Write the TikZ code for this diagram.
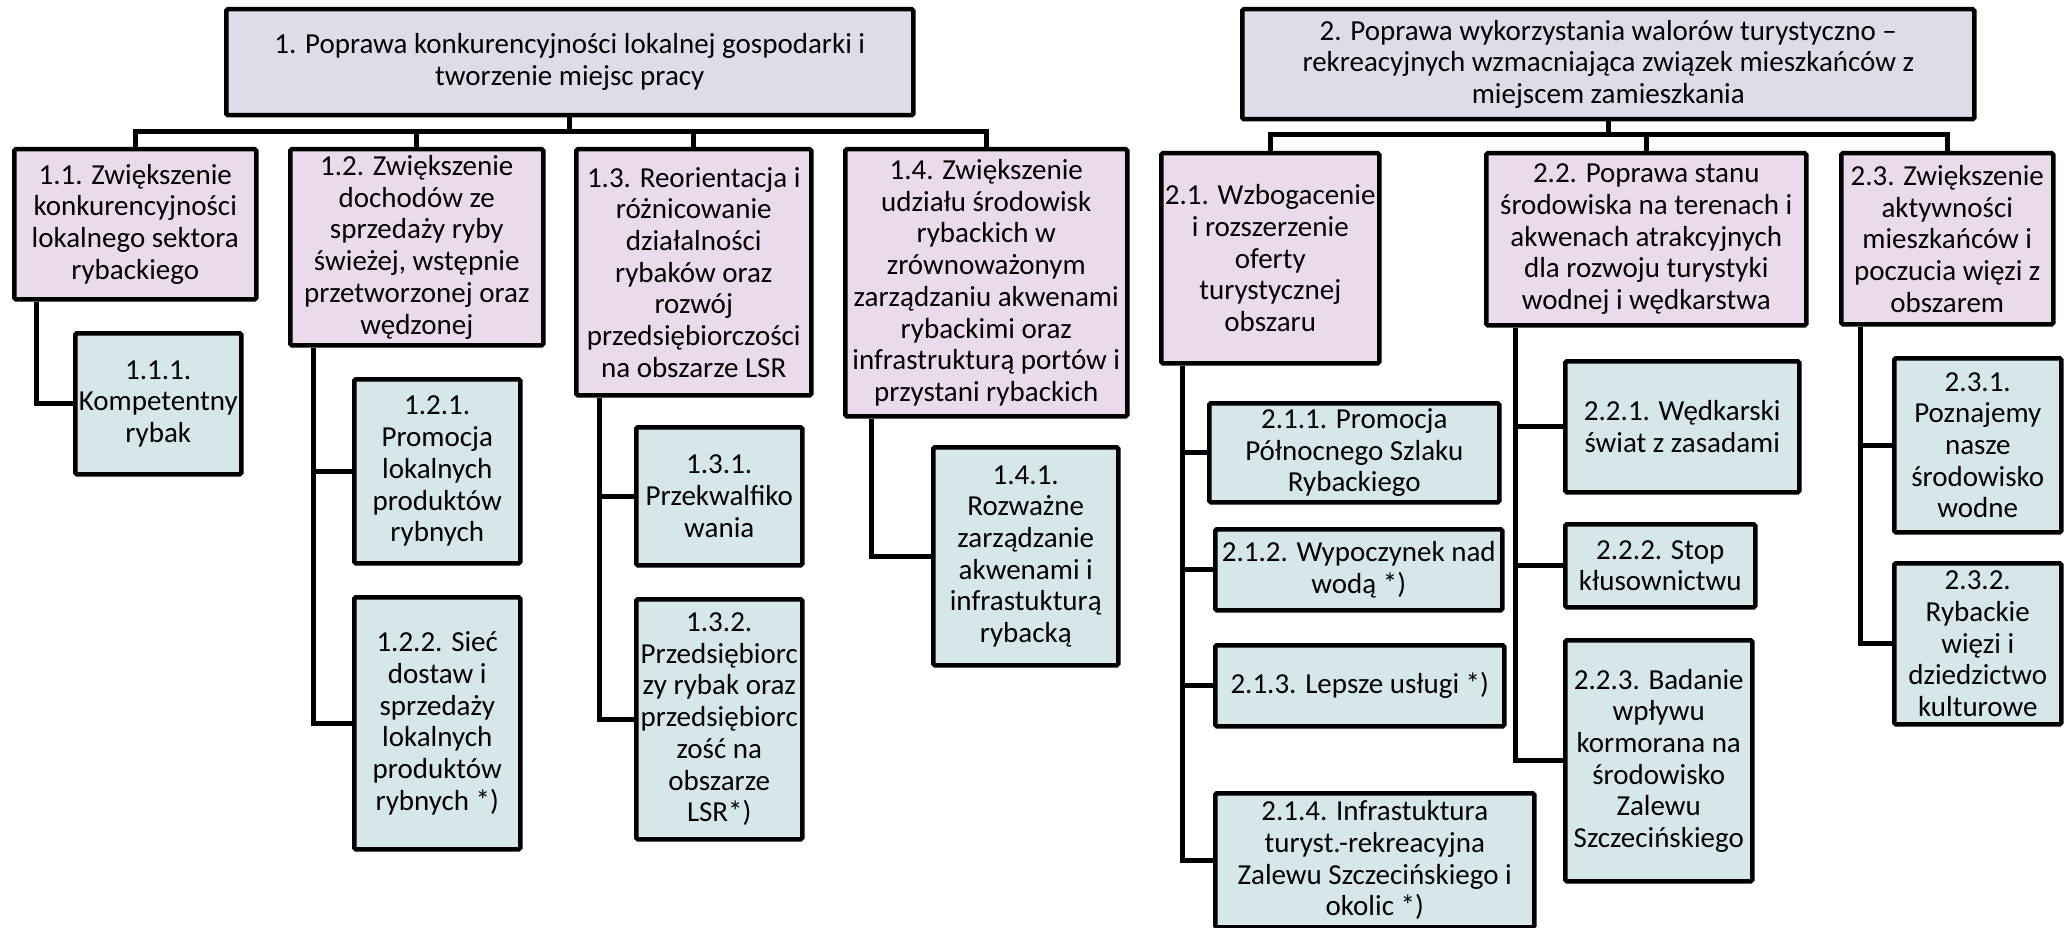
\documentclass[tikz,border=0pt]{standalone}
\usepackage{fontspec}
\setmainfont{Carlito}
\definecolor{topc}{RGB}{221,221,234}
\definecolor{midc}{RGB}{234,218,236}
\definecolor{leafc}{RGB}{214,231,233}
\begin{document}
\begin{tikzpicture}[x=1pt,y=-1pt,
  box/.style={draw=black, line width=4.5pt, rounded corners=1.5pt, inner sep=0pt,
    align=center, anchor=north west, font=\fontsize{29pt}{31.7pt}\selectfont},
  topbox/.style={box, fill=topc},
  midbox/.style={box, fill=midc},
  leafbox/.style={box, fill=leafc},
  sz/.style 2 args={minimum width=#1pt, minimum height=#2pt},
  conn/.style={draw=black, line width=5pt}]
\useasboundingbox (0,0) rectangle (2069,928);

% ---------- group 1 ----------
\node[topbox, sz={687}{106}] (b1) at (224,7) {1. Poprawa konkurencyjności lokalnej gospodarki i\\tworzenie miejsc pracy};

\node[midbox, sz={242}{150}] (n11) at (12,147) {1.1. Zwiększenie\\konkurencyjności\\lokalnego sektora\\rybackiego};
\node[midbox, sz={253}{196}] (n12) at (288,147) {1.2. Zwiększenie\\dochodów ze\\sprzedaży ryby\\świeżej, wstępnie\\przetworzonej oraz\\wędzonej};
\node[midbox, sz={235}{246}] (n13) at (574,147) {1.3. Reorientacja i\\różnicowanie\\działalności\\rybaków oraz\\rozwój\\przedsiębiorczości\\na obszarze LSR};
\node[midbox, sz={282}{267}] (n14) at (843,147) {1.4. Zwiększenie\\udziału środowisk\\rybackich w\\zrównoważonym\\zarządzaniu akwenami\\rybackimi oraz\\infrastrukturą portów i\\przystani rybackich};

\node[leafbox, sz={166}{141}] (n111) at (73,331) {1.1.1.\\Kompetentny\\rybak};
\node[leafbox, sz={166}{184}] (n121) at (352,377) {1.2.1.\\Promocja\\lokalnych\\produktów\\rybnych};
\node[leafbox, sz={166}{252}] (n122) at (352,595) {1.2.2. Sieć\\dostaw i\\sprzedaży\\lokalnych\\produktów\\rybnych *)};
\node[leafbox, sz={166}{138}] (n131) at (634,425) {1.3.1.\\Przekwalfiko\\wania};
\node[leafbox, sz={166}{240}] (n132) at (634,597) {1.3.2.\\Przedsiębiorc\\zy rybak oraz\\przedsiębiorc\\zość na\\obszarze\\LSR*)};
\node[leafbox, sz={185}{218}] (n141) at (931,445) {1.4.1.\\Rozważne\\zarządzanie\\akwenami i\\infrastukturą\\rybacką};

% ---------- group 2 ----------
\node[topbox, sz={732}{110}] (b2) at (1240,7) {2. Poprawa wykorzystania walorów turystyczno –\\rekreacyjnych wzmacniająca związek mieszkańców z\\miejscem zamieszkania};

\node[midbox, sz={218}{210}] (n21) at (1159,151) {2.1. Wzbogacenie\\i rozszerzenie\\oferty\\turystycznej\\obszaru};
\node[midbox, sz={320}{172}] (n22) at (1484,151) {2.2. Poprawa stanu\\środowiska na terenach i\\akwenach atrakcyjnych\\dla rozwoju turystyki\\wodnej i wędkarstwa};
\node[midbox, sz={212}{171}] (n23) at (1839,151) {2.3. Zwiększenie\\aktywności\\mieszkańców i\\poczucia więzi z\\obszarem};

\node[leafbox, sz={290}{99}] (n211) at (1207,401) {2.1.1. Promocja\\Północnego Szlaku\\Rybackiego};
\node[leafbox, sz={287}{81}] (n212) at (1213,527) {2.1.2. Wypoczynek nad\\wodą *)};
\node[leafbox, sz={289}{81}] (n213) at (1213,643) {2.1.3. Lepsze usługi *)};
\node[leafbox, sz={319}{134}] (n214) at (1213,791) {2.1.4. Infrastuktura\\turyst.-rekreacyjna\\Zalewu Szczecińskiego i\\okolic *)};
\node[leafbox, sz={234}{131}] (n221) at (1563,359) {2.2.1. Wędkarski\\świat z zasadami};
\node[leafbox, sz={190}{83}] (n222) at (1563,522) {2.2.2. Stop\\kłusownictwu};
\node[leafbox, sz={187}{241}] (n223) at (1563,638) {2.2.3. Badanie\\wpływu\\kormorana na\\środowisko\\Zalewu\\Szczecińskiego};
\node[leafbox, sz={167}{174}] (n231) at (1892,356) {2.3.1.\\Poznajemy\\nasze\\środowisko\\wodne};
\node[leafbox, sz={167}{161}] (n232) at (1892,561) {2.3.2.\\Rybackie\\więzi i\\dziedzictwo\\kulturowe};

% ---------- connectors group 1 ----------
\coordinate (bus1) at (0,132);
\draw[conn] (b1.south) -- (b1.south |- bus1);
\draw[conn] (n11.north) -- (n11.north |- bus1) -- (n14.north |- bus1) -- (n14.north);
\draw[conn] (n12.north) -- (n12.north |- bus1);
\draw[conn] (n13.north) -- (n13.north |- bus1);

\draw[conn] (n11.south west) ++(24,0) |- (n111.west);
\draw[conn] (n12.south west) ++(25,0) |- (n121.west);
\draw[conn] (n12.south west) ++(25,0) |- (n122.west);
\draw[conn] (n13.south west) ++(25,0) |- (n131.west);
\draw[conn] (n13.south west) ++(25,0) |- (n132.west);
\draw[conn] (n14.south west) ++(28,0) |- (n141.west);

% ---------- connectors group 2 ----------
\coordinate (bus2) at (0,135);
\draw[conn] (b2.south) -- (b2.south |- bus2);
\draw[conn] (n21.north) -- (n21.north |- bus2) -- (n23.north |- bus2) -- (n23.north);
\draw[conn] (n22.north) -- (n22.north |- bus2);

\draw[conn] (n21.south west) ++(23,0) |- (n211.west);
\draw[conn] (n21.south west) ++(23,0) |- (n212.west);
\draw[conn] (n21.south west) ++(23,0) |- (n213.west);
\draw[conn] (n21.south west) ++(23,0) |- (n214.west);
\draw[conn] (n22.south west) ++(31,0) |- (n221.west);
\draw[conn] (n22.south west) ++(31,0) |- (n222.west);
\draw[conn] (n22.south west) ++(31,0) |- (n223.west);
\draw[conn] (n23.south west) ++(21,0) |- (n231.west);
\draw[conn] (n23.south west) ++(21,0) |- (n232.west);
\end{tikzpicture}
\end{document}
